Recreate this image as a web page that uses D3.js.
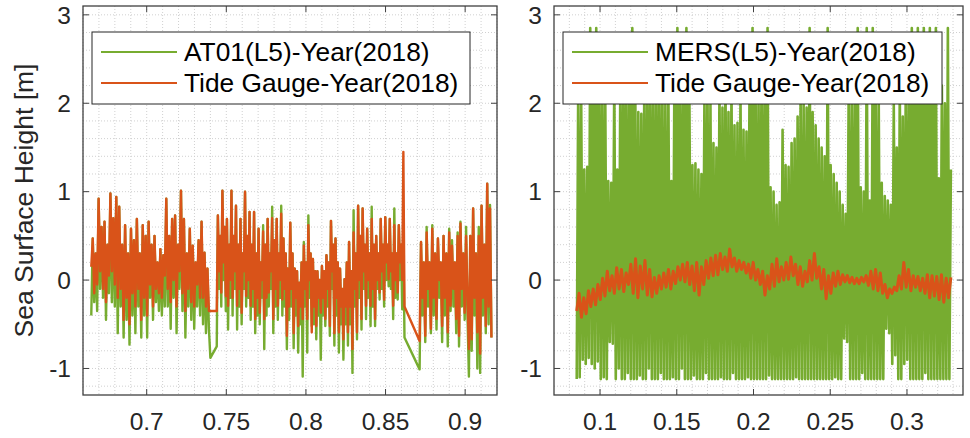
<!DOCTYPE html>
<html>
<head>
<meta charset="utf-8">
<script src="https://cdn.jsdelivr.net/npm/d3@7"></script>
<style>
  body { margin: 0; background: #fff; }
  svg { display: block; font-family: "Liberation Sans", Arial, sans-serif; }
</style>
</head>
<body>
<svg id="chart" width="970" height="438"></svg>
<script>
// ---- data ----
const yTicks = [-1, 0, 1, 2, 3];
const leftXTicks = [0.7, 0.75, 0.8, 0.85, 0.9];
const rightXTicks = [0.1, 0.15, 0.2, 0.25, 0.3];

// left panel: AT01 vs tide gauge, three runs of samples (gaps near 0.742 and 0.866)
const leftSpans = [[0.6652, 0.7400], [0.7440, 0.8619], [0.8714, 0.9165]];

const tideLeftA = [0.15, 0.47, -0.15, 0.3, -0.05, 0.92, 0.1, 0.6, -0.1, 0.66, -0.25, 0.4, 0.05, 0.98, 0.1, 0.7, -0.05, 0.94, -0.2, 0.83,
  -0.1, 0.4, -0.45, 0.62, -0.2, 0.3, -0.5, 0.58, -0.15, 0.45, -0.3, 0.69, -0.1, 0.3, -0.45, 0.62, -0.2, 0.5, -0.4, 0.66,
  -0.05, 0.4, -0.3, 0.5, -0.1, 0.2, -0.15, 0.35, -0.2, 0.28, 0.05, 0.92, -0.1, 0.5, -0.25, 0.69, 0.0, 0.73, -0.3, 0.4,
  0.1, 1.01, -0.15, 0.69, -0.35, 0.3, -0.1, 0.58, -0.25, 0.39, -0.3, 0.2, -0.05, 0.45, -0.2, 0.66, -0.2, 0.31, -0.3, 0.13,
  -0.35, -0.35];
const at01A = [-0.4, 0.47, -0.25, 0.3, -0.35, 0.92, -0.1, 0.6, -0.2, 0.66, -0.45, 0.4, -0.15, 0.98, -0.25, 0.7, -0.3, 0.94, -0.6, 0.83,
  -0.3, 0.4, -0.65, 0.62, -0.45, 0.3, -0.73, 0.58, -0.4, 0.45, -0.6, 0.69, -0.3, 0.3, -0.65, 0.62, -0.4, 0.5, -0.65, 0.66,
  -0.2, 0.4, -0.45, 0.5, -0.25, 0.2, -0.35, 0.35, -0.4, 0.28, -0.3, 0.92, -0.3, 0.5, -0.55, 0.69, -0.2, 0.73, -0.6, 0.4,
  -0.1, 1.01, -0.35, 0.69, -0.65, 0.3, -0.3, 0.58, -0.45, 0.39, -0.55, 0.2, -0.3, 0.45, -0.4, 0.66, -0.5, 0.31, -0.6, 0.13,
  -0.55, -0.88];

const tideLeftB = [-0.35, 0.73, 0.1, 0.5, -0.14, 1.01, 0.2, 0.6, -0.18, 0.69, -0.29, 0.4, 0.0, 1.01, -0.2, 0.5, 0.1, 0.84, -0.29, 0.4,
  -0.1, 0.69, -0.37, 0.3, 0.1, 1.0, -0.18, 0.5, 0.0, 0.77, -0.29, 0.4, -0.1, 0.77, -0.44, 0.3, -0.2, 0.58, -0.37, 0.2,
  0.0, 0.55, -0.44, 0.4, -0.2, 0.69, -0.14, 0.3, 0.1, 0.7, -0.44, 0.45, -0.1, 0.69, -0.29, 0.3, 0.0, 0.75, -0.22, 0.47,
  -0.1, 0.3, -0.63, 0.13, -0.3,
  0.65, -0.1, 0.3, -0.6, 0.13, -0.2, 0.1, -0.52, -0.03, -0.3, 0.2, -0.44, 0.39, -0.1, 0.2, -0.44, 0.62, 0.0, 0.3, -0.59,
  0.24, -0.3, 0.1, -0.52, 0.1, -0.2, 0.0, -0.37, 0.16, -0.2, 0.1, -0.44, 0.28, -0.1, 0.2, -0.52, 0.67, 0.1, 0.4, -0.6,
  0.47, -0.2, 0.2, -0.59, 0.13, -0.3, -0.1, -0.67, 0.01, -0.3, 0.2, -0.59, 0.43, -0.3, 0.1, -0.78, 0.54, -0.1, 0.3, -0.59,
  0.84, 0.0, 0.5, -0.44, 0.81, 0.1, 0.4, -0.29, 0.58, 0.0, 0.3, -0.29, 0.69, -0.1, 0.4, -0.44, 0.5, 0.0, 0.3, -0.14,
  0.69, 0.1, 0.4, -0.22, 0.71, 0.2, 0.4, 0.01, 0.69, 0.1, 0.3, -0.29, 0.62, 0.0, 0.3, -0.14, 0.62, 0.2, 0.4, 0.0,
  1.45, -0.3];
const at01B = [-0.75, 0.73, -0.1, 0.5, -0.3, 1.01, 0.0, 0.6, -0.35, 0.69, -0.56, 0.4, -0.2, 1.01, -0.4, 0.5, -0.1, 0.84, -0.56, 0.4,
  -0.3, 0.69, -0.5, 0.3, -0.1, 1.0, -0.3, 0.5, -0.2, 0.77, -0.45, 0.4, -0.3, 0.77, -0.6, 0.3, -0.4, 0.58, -0.5, 0.2,
  -0.2, 0.62, -0.78, 0.4, -0.4, 0.69, -0.3, 0.3, -0.1, 0.83, -0.6, 0.45, -0.3, 0.69, -0.45, 0.3, -0.2, 0.84, -0.4, 0.47,
  -0.3, 0.3, -0.78, 0.13, -0.45,
  0.65, -0.3, 0.3, -0.77, 0.13, -0.4, 0.1, -0.82, -0.03, -0.5, 0.2, -1.09, 0.43, -0.3, 0.2, -0.82, 0.73, -0.2, 0.3, -0.52,
  0.24, -0.5, 0.1, -0.67, 0.1, -0.4, 0.0, -0.9, 0.16, -0.4, 0.1, -0.52, 0.28, -0.3, 0.2, -0.63, 0.67, -0.1, 0.4, -0.74,
  0.47, -0.4, 0.2, -0.82, 0.13, -0.5, -0.1, -0.9, 0.01, -0.5, 0.2, -0.74, 0.43, -0.5, 0.1, -1.05, 0.79, -0.3, 0.3, -0.67,
  0.84, -0.2, 0.5, -0.56, 0.81, -0.1, 0.4, -0.44, 0.58, -0.2, 0.3, -0.52, 0.83, -0.3, 0.4, -0.52, 0.5, -0.1, 0.3, -0.22,
  0.69, -0.1, 0.4, -0.3, 0.71, 0.0, 0.4, -0.07, 0.69, -0.1, 0.3, -0.44, 0.81, -0.2, 0.3, -0.22, 0.62, 0.0, 0.4, -0.33,
  0.5, -0.65];

const tideLeftC = [-0.69, 0.43, -0.2, 0.2, -0.63, 0.54, -0.1, 0.2, -0.55, 0.58, -0.2, 0.3, -0.44, 0.47, 0.0, 0.2, -0.52, 0.5, -0.2, 0.3,
  -0.59, 0.54, -0.29, 0.39, -0.1, 0.2, -0.44, 0.5, -0.63, 0.64, -0.1, 0.3, -0.37, 0.5, -0.2, -0.78, 0.5, -0.67, 0.81, -0.2,
  0.3, -0.59, 0.5, -0.83, 0.84, -0.2, 0.4, -0.52, 1.09, -0.3, 0.81, -0.65];
const at01C = [-1.01, 0.43, -0.4, 0.2, -0.7, 0.6, -0.3, 0.2, -0.6, 0.62, -0.4, 0.3, -0.56, 0.47, -0.2, 0.2, -0.7, 0.5, -0.4, 0.3,
  -0.75, 0.58, -0.35, 0.45, -0.3, 0.2, -0.6, 0.54, -0.75, 0.66, -0.3, 0.3, -0.45, 0.6, -0.4, -1.09, 0.5, -0.8, 0.81, -0.4,
  0.3, -1.0, 0.6, -1.05, 0.84, -0.4, 0.4, -0.6, 1.09, -0.5, 0.85, -0.65];

// right panel: MERS vs tide gauge
const rightSpan = [0.0848, 0.3286];

const tideRight = [-0.35, -0.15, -0.42, -0.2, -0.38, -0.12, -0.3, -0.1, -0.28, -0.05,
  -0.22, 0.02, -0.18, 0.1, -0.12, 0.05, -0.15, 0.14, -0.1, 0.12,
  -0.13, 0.08, -0.05, 0.18, -0.15, 0.24, -0.2, 0.16, -0.1, 0.22,
  -0.17, 0.12, -0.19, 0.03, -0.15, 0.05, -0.1, 0.08, -0.08, 0.12,
  -0.1, 0.1, -0.04, 0.15, 0.0, 0.18, -0.02, 0.2, -0.05, 0.16,
  -0.12, 0.2, -0.17, 0.15, -0.05, 0.22, 0.02, 0.25, 0.05, 0.28,
  0.06, 0.3, 0.12, 0.26, 0.1, 0.35, 0.15, 0.25, 0.1, 0.22,
  0.12, 0.2, 0.08, 0.18, 0.02, 0.2, 0.0, 0.12, -0.05, 0.1,
  -0.17, 0.05, -0.1, 0.18, -0.07, 0.24, -0.02, 0.15, 0.0, 0.2,
  0.01, 0.26, 0.05, 0.18, -0.05, 0.15, -0.07, 0.1, -0.02, 0.22,
  0.0, 0.3, 0.02, 0.15, -0.1, 0.12, -0.21, 0.05, -0.15, 0.08,
  -0.07, 0.1, -0.05, 0.06, -0.02, 0.05, -0.03, 0.03, -0.04, 0.02,
  -0.04, 0.03, -0.02, 0.05, -0.06, 0.1, -0.1, 0.12, -0.12, 0.08,
  -0.15, -0.05, -0.2, -0.1, -0.15, -0.08, -0.12, 0.05, -0.1, 0.2,
  -0.08, 0.12, -0.12, 0.05, -0.08, 0.04, -0.12, 0.02, -0.15, 0.06,
  -0.2, 0.05, -0.18, 0.04, -0.22, 0.06, -0.25, 0.02, -0.2, 0.03];

// MERS swings between a low and a high on every sample pair
const mersHigh = [2.2, 2.0, 1.25, 1.28, 2.85, 2.3, 2.85, 2.2, 2.4, 2.1,
  1.12, 1.1, 2.3, 1.25, 2.2, 2.5, 2.3, 2.2, 2.85, 2.1,
  1.9, 1.88, 2.3, 2.2, 2.5, 2.1, 2.4, 2.2, 2.3, 2.0,
  2.2, 1.12, 2.3, 2.85, 2.2, 2.4, 2.85, 2.1, 1.3, 1.32,
  1.25, 1.2, 2.1, 2.3, 2.0, 1.55, 1.5, 2.2, 1.95, 2.3,
  1.9, 2.2, 1.75, 1.78, 2.1, 1.7, 1.68, 2.2, 2.85, 2.3,
  2.1, 2.4, 2.2, 2.85, 1.05, 1.0, 0.85, 0.88, 1.7, 1.3,
  1.28, 1.55, 1.6, 1.85, 2.1, 2.0, 1.95, 2.85, 1.9, 1.75,
  1.6, 1.5, 1.4, 2.85, 1.3, 1.2, 1.1, 1.0, 0.85, 0.75,
  2.2, 2.0, 2.3, 2.85, 1.05, 1.0, 2.85, 0.9, 2.85, 2.2,
  2.0, 1.1, 0.95, 0.9, 0.85, 2.0, 1.5, 2.2, 1.85, 2.3,
  2.1, 2.85, 2.2, 2.85, 2.4, 2.85, 2.1, 2.85, 2.3, 2.85,
  1.15, 2.2, 2.0, 2.85, 1.25];
const mersLow = [-1.12, -1.1, -0.9, -0.95, -0.88, -0.95, -1.0, -0.92, -1.12, -1.1,
  -1.12, -0.7, -0.72, -1.12, -1.0, -1.12, -1.12, -1.05, -1.12, -1.12,
  -1.12, -1.08, -1.12, -1.12, -1.0, -1.12, -1.12, -1.12, -1.05, -1.12,
  -1.12, -1.12, -1.1, -1.12, -1.12, -1.0, -1.12, -1.12, -1.12, -1.08,
  -1.12, -1.12, -1.12, -1.05, -1.12, -1.12, -1.12, -1.12, -1.1, -1.12,
  -1.12, -1.12, -1.05, -1.12, -1.12, -1.12, -1.12, -1.1, -1.12, -1.12,
  -1.12, -1.12, -1.12, -1.12, -1.08, -1.12, -1.12, -1.12, -1.12, -1.12,
  -1.12, -1.12, -1.12, -1.1, -1.12, -1.12, -1.12, -1.12, -1.12, -1.12,
  -1.12, -1.12, -1.12, -1.12, -1.12, -1.12, -1.1, -1.12, -1.12, -0.66,
  -0.7, -1.12, -1.12, -1.12, -1.12, -1.05, -1.12, -1.12, -1.12, -1.12,
  -1.12, -1.12, -1.12, -0.55, -0.6, -0.95, -0.85, -1.12, -1.12, -0.95,
  -0.9, -1.12, -1.12, -1.12, -1.12, -1.12, -1.05, -1.12, -1.12, -1.12,
  -1.12, -1.12, -1.12, -1.12, -1.12];

// ---- build series ----
var buildSeries = function(spans, lists) {
  let out = [];
  spans.forEach(function(span, k) {
    let vals = lists[k];
    let step = (span[1] - span[0]) / (vals.length - 1);
    vals.forEach(function(v, i) {
      out.push({t: span[0] + i * step, v: v});
    });
  });
  return out;
}

let mersValues = [];
mersLow.forEach(function(lo, i) {
  mersValues.push(lo, mersHigh[i]);
});

const green = "#77AC30",
      orange = "#D95319",
      axisColor = "#404040",
      textColor = "#262626";

const panels = [
  {
    left: 83, right: 497, xDomain: [0.66, 0.92], xTicks: leftXTicks,
    green: buildSeries(leftSpans, [at01A, at01B, at01C]),
    orange: buildSeries(leftSpans, [tideLeftA, tideLeftB, tideLeftC]),
    greenWidth: 2.4, orangeWidth: 2.4,
    names: ["AT01(L5)-Year(2018)", "Tide Gauge-Year(2018)"],
    legend: {x: 92, y: 32, w: 378, h: 72}
  },
  {
    left: 554, right: 963, xDomain: [0.07, 0.3365], xTicks: rightXTicks,
    green: buildSeries([rightSpan], [mersValues]),
    orange: buildSeries([rightSpan], [tideRight]),
    greenWidth: 2.6, orangeWidth: 3,
    names: ["MERS(L5)-Year(2018)", "Tide Gauge-Year(2018)"],
    legend: {x: 563, y: 32, w: 379, h: 72}
  }
];

const plotTop = 6, plotBottom = 395, tickLen = 6;
const svg = d3.select("#chart");

const y = d3.scaleLinear().domain([-1.3, 3.1]).range([plotBottom, plotTop]);
const yMinor = d3.range(-12, 31, 2).map(function(d) { return d / 10; });

panels.forEach(function(p) {
  const x = d3.scaleLinear().domain(p.xDomain).range([p.left, p.right]);
  const xMinor = d3.range(Math.ceil(p.xDomain[0] * 100), Math.floor(p.xDomain[1] * 100) + 1)
    .map(function(d) { return d / 100; });

  const g = svg.append("g");

  // dotted grid
  g.append("g").selectAll("line")
    .data(xMinor)
    .join("line")
      .attr("x1", function(d) { return x(d); })
      .attr("x2", function(d) { return x(d); })
      .attr("y1", plotTop).attr("y2", plotBottom)
      .attr("stroke", "#d0d0d0")
      .attr("stroke-dasharray", "1,2");
  g.append("g").selectAll("line")
    .data(yMinor)
    .join("line")
      .attr("y1", function(d) { return y(d); })
      .attr("y2", function(d) { return y(d); })
      .attr("x1", p.left).attr("x2", p.right)
      .attr("stroke", "#d0d0d0")
      .attr("stroke-dasharray", "1,2");

  const line = d3.line()
    .x(function(d) { return x(d.t); })
    .y(function(d) { return y(d.v); });

  g.append("path")
    .attr("fill", "none")
    .attr("stroke", green)
    .attr("stroke-width", p.greenWidth)
    .attr("stroke-linejoin", "round")
    .attr("d", line(p.green));

  g.append("path")
    .attr("fill", "none")
    .attr("stroke", orange)
    .attr("stroke-width", p.orangeWidth)
    .attr("stroke-linejoin", "round")
    .attr("d", line(p.orange));

  // box
  g.append("rect")
    .attr("x", p.left).attr("y", plotTop)
    .attr("width", p.right - p.left).attr("height", plotBottom - plotTop)
    .attr("fill", "none")
    .attr("stroke", axisColor)
    .attr("stroke-width", 1.3);

  // ticks on all four sides, pointing in
  p.xTicks.forEach(function(d) {
    g.append("line").attr("x1", x(d)).attr("x2", x(d))
      .attr("y1", plotBottom).attr("y2", plotBottom - tickLen).attr("stroke", axisColor);
    g.append("line").attr("x1", x(d)).attr("x2", x(d))
      .attr("y1", plotTop).attr("y2", plotTop + tickLen).attr("stroke", axisColor);
  });
  yTicks.forEach(function(d) {
    g.append("line").attr("y1", y(d)).attr("y2", y(d))
      .attr("x1", p.left).attr("x2", p.left + tickLen).attr("stroke", axisColor);
    g.append("line").attr("y1", y(d)).attr("y2", y(d))
      .attr("x1", p.right).attr("x2", p.right - tickLen).attr("stroke", axisColor);
  });

  g.selectAll(".xlab")
    .data(p.xTicks)
    .join("text")
      .attr("class", "xlab")
      .attr("x", function(d) { return x(d); })
      .attr("y", 430)
      .attr("text-anchor", "middle")
      .attr("font-size", 24.5)
      .attr("fill", textColor)
      .text(function(d) { return String(d); });

  g.selectAll(".ylab")
    .data(yTicks)
    .join("text")
      .attr("class", "ylab")
      .attr("x", p.left - 12)
      .attr("y", function(d) { return y(d); })
      .attr("dy", "0.36em")
      .attr("text-anchor", "end")
      .attr("font-size", 24.5)
      .attr("fill", textColor)
      .text(function(d) { return String(d); });

  // legend
  const lg = g.append("g");
  lg.append("rect")
    .attr("x", p.legend.x).attr("y", p.legend.y)
    .attr("width", p.legend.w).attr("height", p.legend.h)
    .attr("fill", "#fff")
    .attr("stroke", textColor)
    .attr("stroke-width", 1);
  p.names.forEach(function(name, i) {
    let ly = p.legend.y + 20 + i * 31;
    lg.append("line")
      .attr("x1", p.legend.x + 9).attr("x2", p.legend.x + 85)
      .attr("y1", ly).attr("y2", ly)
      .attr("stroke", i === 0 ? green : orange)
      .attr("stroke-width", 2.2);
    lg.append("text")
      .attr("x", p.legend.x + 92)
      .attr("y", ly)
      .attr("dy", "0.36em")
      .attr("font-size", 26.3)
      .attr("fill", "#000")
      .text(name);
  });
});

svg.append("text")
  .attr("transform", "translate(23," + y(0.9) + ") rotate(-90)")
  .attr("text-anchor", "middle")
  .attr("dy", "0.36em")
  .attr("font-size", 26.5)
  .attr("fill", textColor)
  .text("Sea Surface Height [m]");
</script>
</body>
</html>
